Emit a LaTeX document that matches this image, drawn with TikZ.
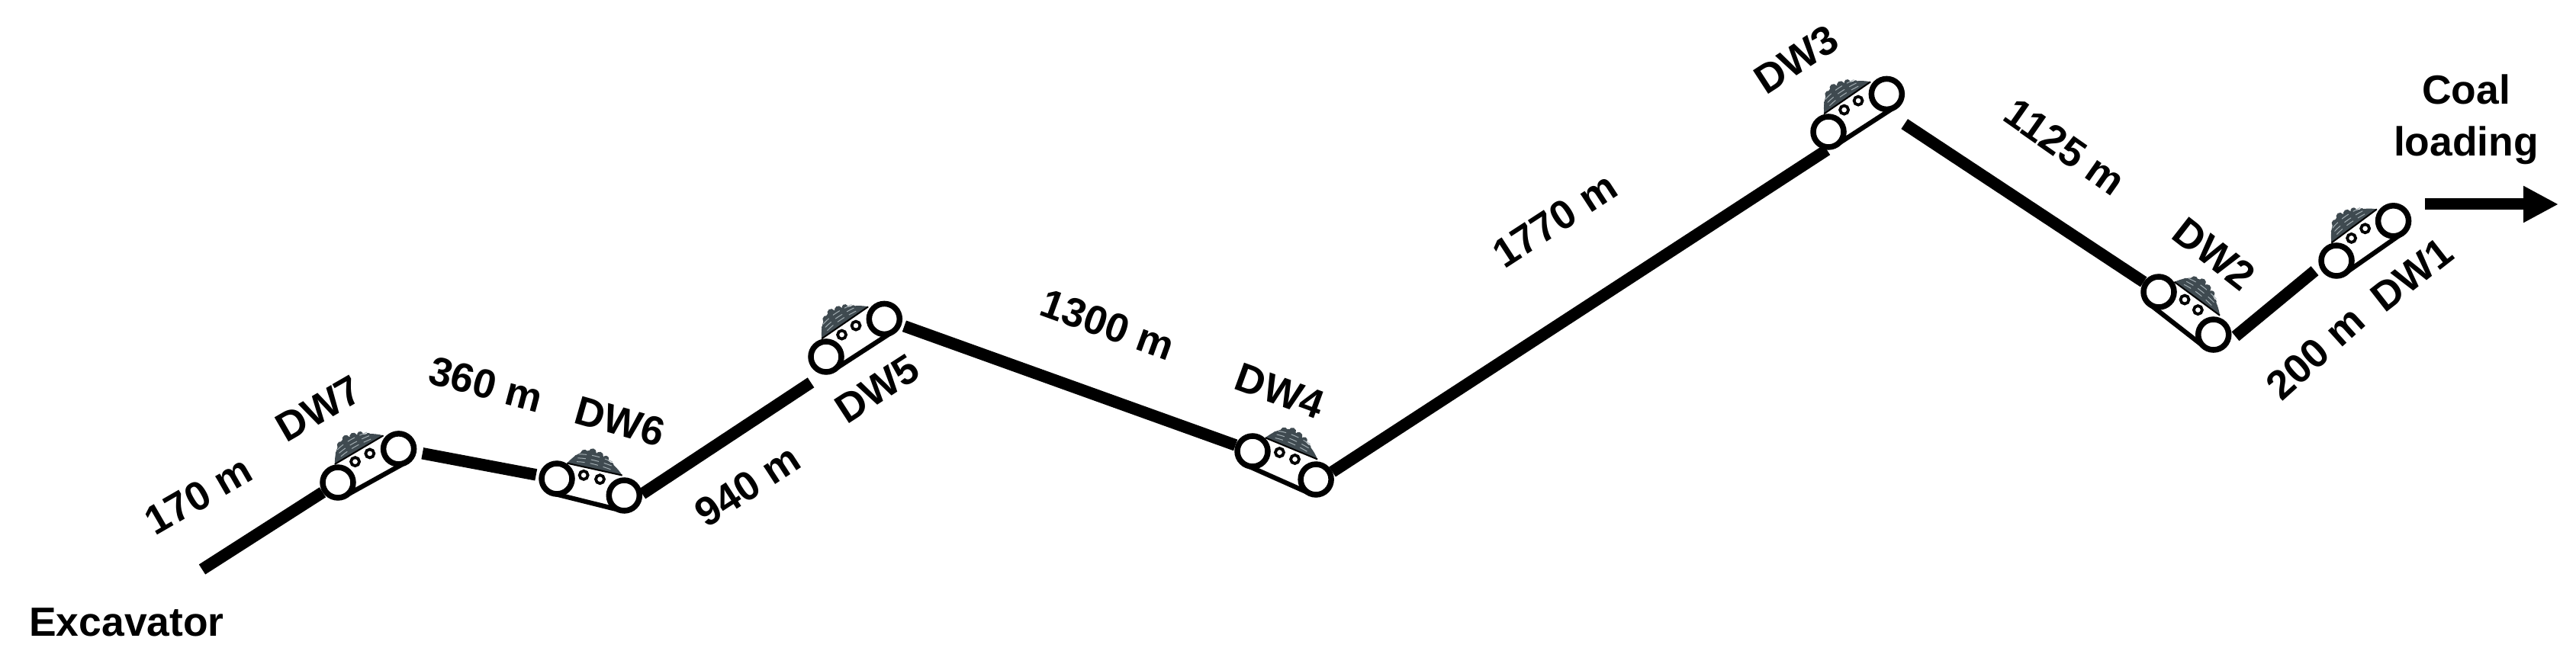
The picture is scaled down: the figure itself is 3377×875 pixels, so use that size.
\documentclass[tikz,border=0pt]{standalone}
\usepackage{fontspec}
\setmainfont{Liberation Sans}
\usetikzlibrary{arrows.meta}
\definecolor{coalgrey}{HTML}{3F4A50}
\definecolor{coalgrain}{HTML}{A3AEB3}
\tikzset{
    roller/.style={circle,draw=black,fill=white,line width=0.75mm,minimum size=4mm,inner sep=0pt},
    idler/.style={circle,draw=black,fill=white,line width=0.38mm,minimum size=1.1mm,inner sep=0pt},
    beltline/.style={line width=0.62mm},
    haulroad/.style={line width=1.55mm},
    dwlabel/.style={font=\bfseries\fontsize{15.2}{18}\selectfont,inner sep=0pt,align=center},
    belt/.pic={
        \draw[beltline] (0,20) -- (91,20);
        \fill[coalgrey] (8,-23) .. controls (13,-32) and (20,-42) .. (32,-46)
            .. controls (42,-46) and (52,-44) .. (60,-39)
            .. controls (68,-36) and (76,-31) .. (82,-25) -- cycle;
        \foreach \cx/\cy/\cr in {19/-33/4,27/-41/5,37/-45/5,47/-43/5,56/-41/4,65/-35/3}
            \fill[coalgrey] (\cx,\cy) circle (\cr);
        \foreach \ya/\yb in {-28/-31,-33/-36,-38/-42}
            \draw[coalgrain,line width=0.1mm,densely dashed] (20,\ya) .. controls (34,\yb) and (50,\yb) .. (72,\ya);
        \draw[line width=0.2mm] (8,-23) -- (82,-25);
        \node[idler] (i1) at (33,-13) {};
        \node[idler] (i2) at (55,-13) {};
        \node[roller] (l) at (0,0) {};
        \node[roller] (r) at (91,0) {};
    },
}

\begin{document}
\begin{tikzpicture}[x=0.1mm,y=-0.1mm]
\useasboundingbox (0,0) rectangle (3377,875);
% trucks, from the pit up to the loading point
\pic[rotate=29] (dw7) at (443,633) {belt};
\pic[rotate=-14] (dw6) at (730,628) {belt};
\pic[rotate=33] (dw5) at (1083,468) {belt};
\pic[rotate=-24] (dw4) at (1642,592) {belt};
\pic[rotate=33] (dw3) at (2397,173) {belt};
\pic[rotate=-38] (dw2) at (2830,383) {belt};
\pic[rotate=35] (dw1) at (3063,342) {belt};

\coordinate (pit) at (265,747);
\coordinate (tail) at (3179,268);
\coordinate (tip) at (3354,268);

\draw[haulroad] (pit) -- (dw7l);
\draw[haulroad,shorten <=0.8mm,shorten >=0.4mm] (dw7r) -- (dw6l);
\draw[haulroad,shorten >=1.9mm] (dw6r.5) -- (dw5l.-100);
\draw[haulroad,shorten <=0.4mm] (dw5r) -- (dw4l);
\draw[haulroad] (dw4r.25) -- (dw3l.-95);
\draw[haulroad,shorten <=2.8mm] (dw3r.-90) -- (dw2l);
\draw[haulroad,shorten <=0.8mm,shorten >=0.8mm] (dw2r.-18) -- (dw1l.200);
\draw[line width=1.5mm,-{Triangle[length=4.6mm,width=4.5mm]}] (tail) -- (tip);

\node[dwlabel] (excavator) at (166,816) {Excavator};
\node[dwlabel] (loading) at (3233,157) {Coal\\[1.5pt]loading};
\node[dwlabel,rotate=30] (len7) at (260,650) {170 m};
\node[dwlabel,rotate=30] (lab7) at (418,536) {DW7};
\node[dwlabel,rotate=-15] (len6) at (637,504) {360 m};
\node[dwlabel,rotate=-16] (lab6) at (813,553) {DW6};
\node[dwlabel,rotate=33] (len5) at (980,637) {940 m};
\node[dwlabel,rotate=33] (lab5) at (1150,510) {DW5};
\node[dwlabel,rotate=-20] (len4) at (1452,426) {1300 m};
\node[dwlabel,rotate=-20] (lab4) at (1678,513) {DW4};
\node[dwlabel,rotate=33] (len3) at (2038,289) {1770 m};
\node[dwlabel,rotate=33] (lab3) at (2355,78) {DW3};
\node[dwlabel,rotate=-35] (len2) at (2707,193) {1125 m};
\node[dwlabel,rotate=-38] (lab2) at (2903,333) {DW2};
\node[dwlabel,rotate=42] (len1) at (3035,463) {200 m};
\node[dwlabel,rotate=38] (lab1) at (3162,360) {DW1};
\end{tikzpicture}
\end{document}
